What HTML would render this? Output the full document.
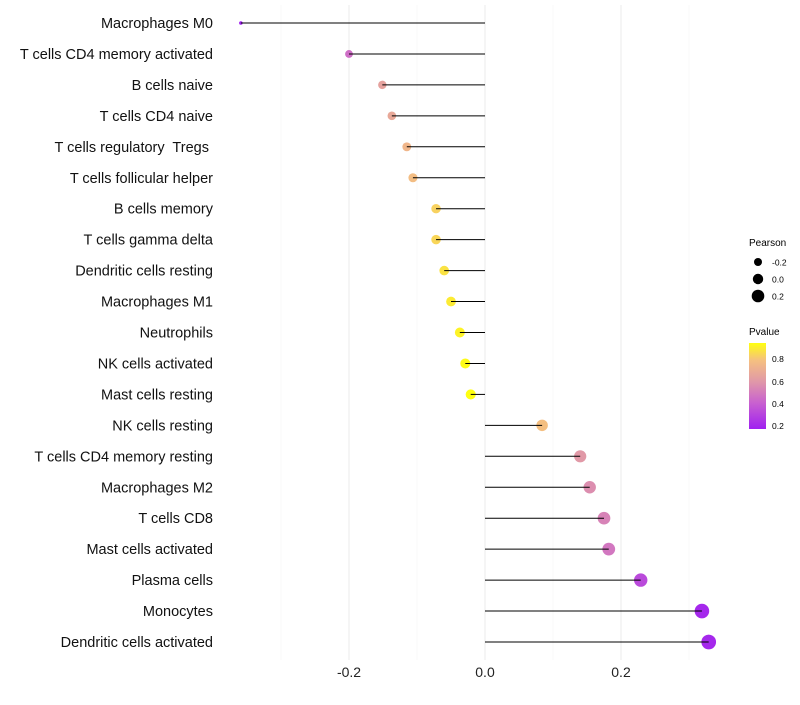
<!DOCTYPE html>
<html><head><meta charset="utf-8"><style>
body{margin:0;background:#fff;font-family:"Liberation Sans",sans-serif}
svg text{font-family:"Liberation Sans",sans-serif;white-space:pre}
</style></head><body>
<svg id="chart" width="800" height="700" xmlns="http://www.w3.org/2000/svg">
<defs><linearGradient id="pg" x1="0" y1="1" x2="0" y2="0">
<stop offset="0" stop-color="#a020f0"/><stop offset="0.3" stop-color="#c860d0"/><stop offset="0.55" stop-color="#e098a8"/><stop offset="0.8" stop-color="#f5c080"/><stop offset="1" stop-color="#ffff10"/></linearGradient></defs>
<g id="grid"></g>
<g id="dots"></g>
<g id="marks"></g>
<g id="ylab"></g>
<g id="xlab"></g>
<g>
<text x="749" y="246" font-size="10">Pearson</text>
<circle cx="758" cy="262" r="4" fill="#000"/><text x="772" y="265.5" font-size="8.5">-0.2</text>
<circle cx="758" cy="279" r="5.2" fill="#000"/><text x="772" y="282.5" font-size="8.5">0.0</text>
<circle cx="758" cy="296" r="6.3" fill="#000"/><text x="772" y="299.5" font-size="8.5">0.2</text>
</g>
<g>
<text x="749" y="335" font-size="10">Pvalue</text>
<rect x="749" y="343" width="17" height="86" fill="url(#pg)"/>
<text x="772" y="362" font-size="8.5">0.8</text>
<text x="772" y="385" font-size="8.5">0.6</text>
<text x="772" y="407" font-size="8.5">0.4</text>
<text x="772" y="429" font-size="8.5">0.2</text>
</g>
</svg>
<script>
const categories=["Macrophages M0","T cells CD4 memory activated","B cells naive","T cells CD4 naive","T cells regulatory  Tregs ","T cells follicular helper","B cells memory","T cells gamma delta","Dendritic cells resting","Macrophages M1","Neutrophils","NK cells activated","Mast cells resting","NK cells resting","T cells CD4 memory resting","Macrophages M2","T cells CD8","Mast cells activated","Plasma cells","Monocytes","Dendritic cells activated"];
const pearson=[-0.359,-0.2,-0.151,-0.137,-0.115,-0.106,-0.072,-0.072,-0.060,-0.050,-0.037,-0.029,-0.021,0.084,0.140,0.154,0.175,0.182,0.229,0.319,0.329];
const pvalues=[0.17,0.45,0.64,0.67,0.74,0.77,0.83,0.84,0.87,0.89,0.91,0.93,0.95,0.78,0.6,0.56,0.52,0.48,0.32,0.2,0.2];
const xTicks=[-0.2,0.0,0.2];
const xTickLabels=["-0.2","0.0","0.2"];
const xMinor=[-0.3,-0.1,0.1,0.3];
const NS="http://www.w3.org/2000/svg";
const X=v=>485+v*680;
const Y=i=>23+i*30.95;
const R=v=>v<-0.3?1.8:5.2+v*6.5;
const stops=[[0,[160,32,240]],[0.3,[200,96,208]],[0.55,[224,152,168]],[0.8,[245,192,128]],[1,[255,255,16]]];
function col(p){let t=(p-0.17)/(0.94-0.17);t=Math.max(0,Math.min(1,t));
for(let k=1;k<stops.length;k++){if(t<=stops[k][0]){const a=stops[k-1],b=stops[k];const f=(t-a[0])/(b[0]-a[0]);
return "rgb("+a[1].map((c,j)=>Math.round(c+(b[1][j]-c)*f)).join(",")+")";}}return "rgb(255,255,16)";}
function mk(t,a,parent){const e=document.createElementNS(NS,t);for(const k in a)e.setAttribute(k,a[k]);parent.appendChild(e);return e;}
const grid=document.getElementById('grid'),marks=document.getElementById('marks'),dots=document.getElementById('dots'),yl=document.getElementById('ylab'),xl=document.getElementById('xlab');
xMinor.forEach(v=>{const l=mk('line',{x1:X(v),x2:X(v),y1:5,y2:660,stroke:'#f4f4f4','stroke-width':0.6},grid);

});
xTicks.forEach((v,i)=>{const l=mk('line',{x1:X(v),x2:X(v),y1:5,y2:660,stroke:'#ebebeb','stroke-width':1},grid);


const t=mk('text',{x:X(v),y:677,'font-size':14,'text-anchor':'middle',fill:'#222'},xl);t.textContent=xTickLabels[i];

});
categories.forEach((c,i)=>{const y=Y(i);
const d=mk('circle',{cx:X(pearson[i]),cy:y,r:R(pearson[i]),fill:col(pvalues[i])},dots);


const s=mk('line',{x1:X(0),x2:X(pearson[i]),y1:y,y2:y,stroke:'#000','stroke-width':1},marks);


const t=mk('text',{x:213,y:y+5,'font-size':14.5,'text-anchor':'end',fill:'#111'},yl);t.textContent=c;

});
</script>
</body></html>
